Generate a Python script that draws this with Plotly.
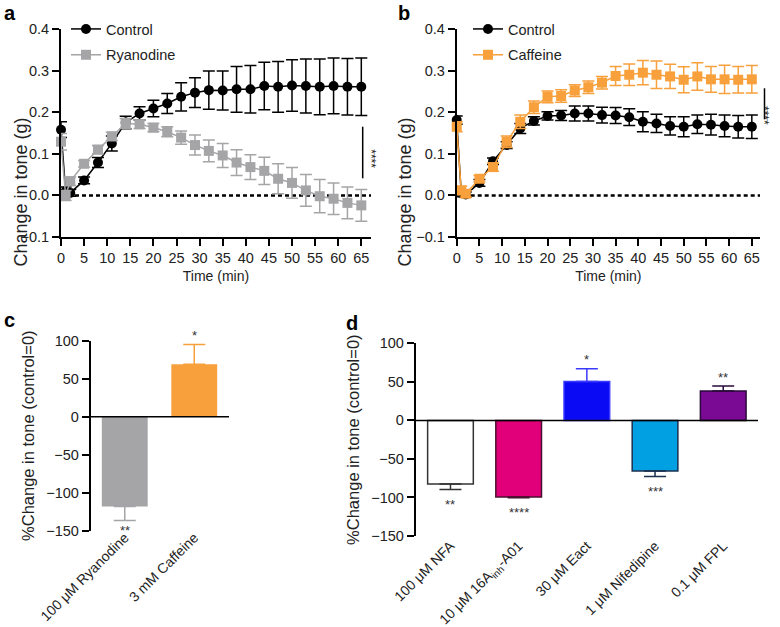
import plotly.graph_objects as go

# ── data ────────────────────────────────────────────────────────────────────
time_min = [0, 1, 2, 5, 8, 11, 14, 17, 20, 23, 26, 29, 32, 35, 38, 41, 44, 47, 50, 53, 56, 59, 62, 65]

a_control = [0.158, 0.010, 0.006, 0.036, 0.079, 0.125, 0.175, 0.197, 0.209, 0.221, 0.237, 0.247,
             0.253, 0.252, 0.255, 0.255, 0.263, 0.261, 0.264, 0.263, 0.261, 0.263, 0.261, 0.261]
a_control_err = [0.019, 0.010, 0.008, 0.008, 0.012, 0.018, 0.015, 0.016, 0.020, 0.024, 0.034, 0.036,
                 0.046, 0.047, 0.055, 0.057, 0.057, 0.061, 0.062, 0.065, 0.067, 0.067, 0.068, 0.069]
a_ryanodine = [0.129, 0.000, 0.034, 0.076, 0.110, 0.142, 0.173, 0.171, 0.163, 0.153, 0.139, 0.121,
               0.107, 0.096, 0.079, 0.068, 0.059, 0.040, 0.030, 0.012, -0.002, -0.008, -0.018, -0.024]
a_ryanodine_err = [0.020, 0.012, 0.010, 0.008, 0.010, 0.010, 0.012, 0.010, 0.010, 0.012, 0.016, 0.024,
                   0.026, 0.029, 0.031, 0.030, 0.033, 0.036, 0.037, 0.038, 0.040, 0.038, 0.038, 0.038]

b_control = [0.181, 0.005, 0.002, 0.030, 0.082, 0.121, 0.161, 0.179, 0.191, 0.192, 0.197, 0.197,
             0.193, 0.192, 0.188, 0.177, 0.173, 0.167, 0.165, 0.171, 0.170, 0.167, 0.165, 0.165]
b_control_err = [0.010, 0.008, 0.006, 0.008, 0.008, 0.008, 0.012, 0.010, 0.010, 0.012, 0.018, 0.018,
                 0.019, 0.019, 0.020, 0.024, 0.022, 0.022, 0.024, 0.022, 0.025, 0.026, 0.027, 0.028]
b_caffeine = [0.165, 0.012, 0.004, 0.040, 0.068, 0.129, 0.177, 0.212, 0.237, 0.239, 0.252, 0.260,
              0.271, 0.287, 0.290, 0.295, 0.290, 0.286, 0.278, 0.286, 0.279, 0.279, 0.278, 0.279]
b_caffeine_err = [0.012, 0.010, 0.008, 0.008, 0.010, 0.014, 0.016, 0.015, 0.014, 0.015, 0.014, 0.015,
                  0.015, 0.023, 0.026, 0.029, 0.033, 0.029, 0.031, 0.033, 0.031, 0.034, 0.032, 0.033]

c_labels = ["100 μM Ryanodine", "3 mM Caffeine"]
c_values = [-118, 69]
c_err = [18.5, 26]
c_stars = ["**", "*"]

d_labels = ["100 μM NFA", "10 μM 16A<sub>inh</sub>-A01", "30 μM Eact", "1 μM Nifedipine", "0.1 μM FPL"]
d_values = [-82.6, -99.5, 50.6, -65.7, 38]
d_err = [7, 0.8, 16.5, 7, 6.5]
d_stars = ["**", "****", "*", "***", "**"]

# ── style ───────────────────────────────────────────────────────────────────
W, H = 780, 627
FONT = "Liberation Sans, Arial, sans-serif"
TXT = "#222222"
GREY = "#a5a5a8"
ORANGE = "#f8a03c"
c_colors = [GREY, ORANGE]
d_fill = ["white", "#e2007a", "#0a0af5", "#00a0e3", "#7a0a93"]
d_edge = ["#333333", "#4a1030", "#3a3aff", "#1a3050", "#2a0a3a"]


def px_x(p):
    return p / W


def px_y(p):
    return 1 - p / H


fig = go.Figure()


def add_series(y, err, name, color, symbol, xa, ya, legend):
    fig.add_trace(go.Scatter(
        x=time_min, y=y, name=name, mode="lines+markers",
        line=dict(color=color, width=1.5),
        marker=dict(color=color, size=10, symbol=symbol, line=dict(width=0)),
        error_y=dict(type="data", array=err, color=color, thickness=1.5, width=6),
        xaxis=xa, yaxis=ya, legend=legend, legendgroup=name + legend,
        cliponaxis=False,
    ))


# panel a
add_series(a_control, a_control_err, "Control", "black", "circle", "x", "y", "legend")
add_series(a_ryanodine, a_ryanodine_err, "Ryanodine", GREY, "square", "x", "y", "legend")
# panel b
add_series(b_control, b_control_err, "Control", "black", "circle", "x2", "y2", "legend2")
add_series(b_caffeine, b_caffeine_err, "Caffeine", ORANGE, "square", "x2", "y2", "legend2")

# panel c bars
for lab, v, e, col in zip(c_labels, c_values, c_err, c_colors):
    fig.add_trace(go.Bar(
        x=[lab], y=[v], width=0.66, marker=dict(color=col, line=dict(width=0)),
        error_y=dict(type="data", symmetric=False,
                     array=[e if v > 0 else 0], arrayminus=[e if v < 0 else 0],
                     color=col, thickness=1.5, width=11),
        xaxis="x3", yaxis="y3", showlegend=False,
    ))

# panel d bars
for lab, v, e, col, edge in zip(d_labels, d_values, d_err, d_fill, d_edge):
    fig.add_trace(go.Bar(
        x=[lab], y=[v], width=0.67, marker=dict(color=col, line=dict(width=1.5, color=edge)),
        error_y=dict(type="data", symmetric=False,
                     array=[e if v > 0 else 0], arrayminus=[e if v < 0 else 0],
                     color=edge, thickness=1.5, width=11),
        xaxis="x4", yaxis="y4", showlegend=False,
    ))

# star labels for bar panels
for lab, v, e, s in zip(c_labels, c_values, c_err, c_stars):
    off = 9 if v > 0 else -10
    fig.add_annotation(x=lab, y=v + (e if v > 0 else -e), yshift=off, text=s, showarrow=False,
                       xref="x3", yref="y3", font=dict(size=13, color="#333"))
for lab, v, e, s in zip(d_labels, d_values, d_err, d_stars):
    off = 9 if v > 0 else -15
    fig.add_annotation(x=lab, y=v + (e if v > 0 else -e), yshift=off, text=s, showarrow=False,
                       xref="x4", yref="y4", font=dict(size=13, color="#333"))

axis_line = dict(showline=True, linecolor="black", linewidth=1.8, ticks="outside",
                 ticklen=7, tickwidth=1.8, tickcolor="black", showgrid=False, zeroline=False,
                 tickfont=dict(size=14.5, color=TXT), automargin=False)

time_x = dict(axis_line, range=[0, 67.1], tick0=0, dtick=5,
              title=dict(text="Time (min)", font=dict(size=14, color=TXT), standoff=6))
tone_y = dict(axis_line, range=[-0.1, 0.4], dtick=0.1, tickformat=".1f")
pct_y = dict(axis_line, range=[-150, 100], dtick=50,
             title=dict(text="%Change in tone (control=0)", font=dict(size=16.5, color=TXT), standoff=7))
cat_x = dict(showline=False, ticks="", showgrid=False, zeroline=False, tickangle=-45,
             tickfont=dict(size=14, color=TXT), automargin=False)

fig.update_layout(
    width=W, height=H, margin=dict(l=0, r=0, t=0, b=0, autoexpand=False),
    paper_bgcolor="white", plot_bgcolor="white",
    font=dict(family=FONT, color=TXT),
    barmode="overlay",
    xaxis=dict(time_x, domain=[px_x(61), px_x(371)], anchor="y"),
    yaxis=dict(tone_y, domain=[px_y(237), px_y(29)], anchor="x"),
    xaxis2=dict(time_x, range=[0, 66.8], domain=[px_x(456.7), px_x(760)], anchor="y2"),
    yaxis2=dict(tone_y, domain=[px_y(237), px_y(29)], anchor="x2"),
    xaxis3=dict(cat_x, range=[-0.49, 1.5], domain=[px_x(90.7), px_x(229)], anchor="y3",
                ticklabelstandoff=-5),
    yaxis3=dict(pct_y, domain=[px_y(530.7), px_y(340.7)], anchor="x3"),
    xaxis4=dict(cat_x, range=[-0.51, 4.51], domain=[px_x(415.7), px_x(758)], anchor="y4",
                ticklabelstandoff=-2),
    yaxis4=dict(pct_y, domain=[px_y(536), px_y(343.3)], anchor="x4"),
    legend=dict(x=px_x(66), y=px_y(13), xanchor="left", yanchor="top", bgcolor="rgba(0,0,0,0)",
                font=dict(size=14.5, color=TXT), tracegroupgap=4, itemwidth=30),
    legend2=dict(x=px_x(468), y=px_y(13), xanchor="left", yanchor="top", bgcolor="rgba(0,0,0,0)",
                 font=dict(size=14.5, color=TXT), tracegroupgap=4, itemwidth=30),
)

# y titles of the time-course panels (sit a little above the axis centre)
for xc in (8, 404):
    fig.add_annotation(xref="paper", yref="paper", x=px_x(xc), y=px_y(116), text="Change in tone (g)",
                       textangle=-90, showarrow=False, font=dict(size=18, color=TXT))

# dashed zero reference lines in time-course panels
for xa, ya in [("x", "y"), ("x2", "y2")]:
    fig.add_shape(type="line", xref=f"{xa} domain", yref=ya, x0=0, x1=1, y0=0, y1=0,
                  line=dict(color="black", width=2.5, dash="4px,3px"), layer="below")

# zero baselines in bar panels
for xa, ya in [("x3", "y3"), ("x4", "y4")]:
    fig.add_shape(type="line", xref=f"{xa} domain", yref=ya, x0=0, x1=1, y0=0, y1=0,
                  line=dict(color="black", width=1.5), layer="above")

# significance brackets (a, b); tight box so the right-edge one is not pushed inwards
for xl, y0, y1, xs, ys in [(362.7, 126.7, 178.3, 371.7, 147.5), (764.5, 88.3, 119.3, 771.5, 104)]:
    fig.add_shape(type="line", xref="paper", yref="paper", x0=px_x(xl), x1=px_x(xl),
                  y0=px_y(y0), y1=px_y(y1), line=dict(color="black", width=1.5))
    fig.add_annotation(xref="paper", yref="paper", x=px_x(xs), y=px_y(ys), text="****",
                       textangle=90, showarrow=False, width=20, borderpad=0,
                       font=dict(size=12, color="#222"))

# panel letters
for letter, x, y in [("a", 2, 0), ("b", 396, 0), ("c", 2, 307), ("d", 344, 310)]:
    fig.add_annotation(xref="paper", yref="paper", x=px_x(x), y=px_y(y), text=f"<b>{letter}</b>",
                       xanchor="left", yanchor="top", showarrow=False,
                       font=dict(size=20, color="black"))

# drop the default 8px page margin so the figure fills the window exactly
fig.write_html("out.html", config={"displayModeBar": False},
               post_script="document.body.style.margin='0px';")
